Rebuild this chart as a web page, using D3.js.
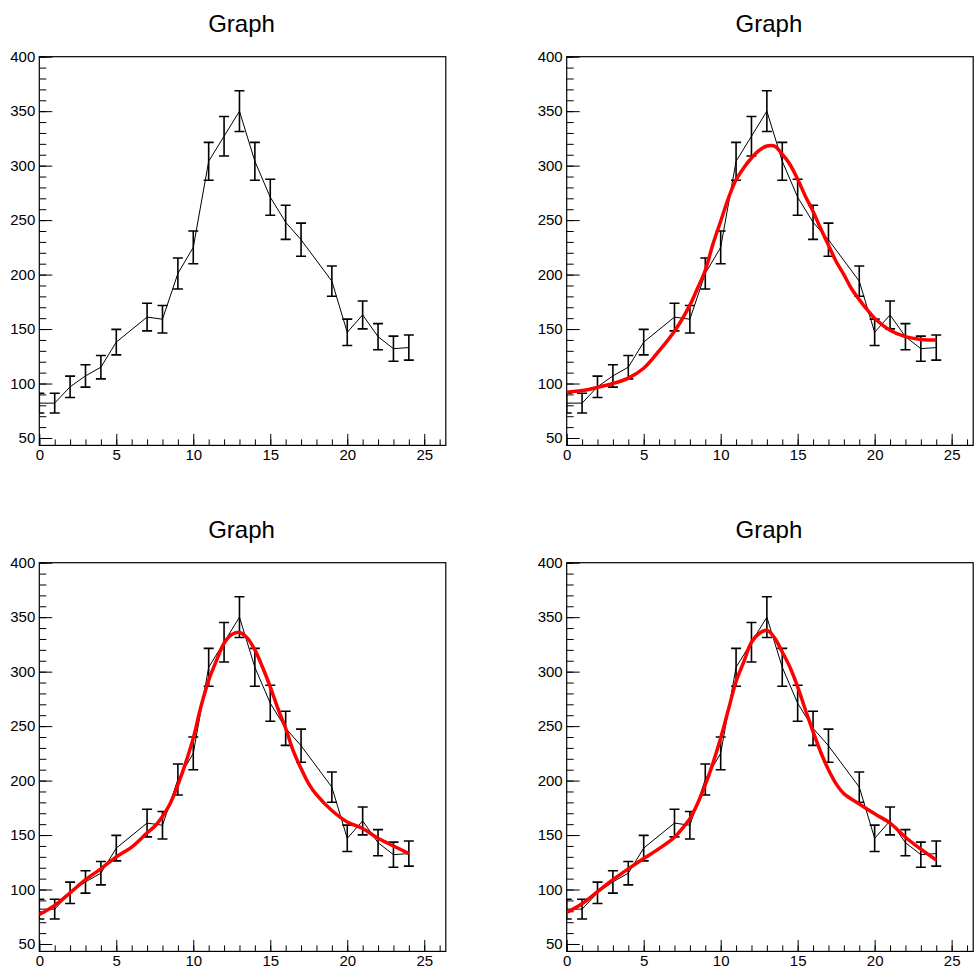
<!DOCTYPE html>
<html>
<head>
<meta charset="utf-8">
<script src="https://cdn.jsdelivr.net/npm/d3@7"></script>
<style>
  html, body { margin: 0; padding: 0; background: #fff; }
  svg { display: block; }
  text { font-family: "Liberation Sans", Arial, Helvetica, sans-serif; }
</style>
</head>
<body>
<script>
// Measured points of the graph
const xValues = [0, 1, 2, 3, 4, 5, 7, 8, 9, 10, 11, 12, 13, 14, 15, 16, 17, 19, 20, 21, 22, 23, 24];
const yValues = [82, 82, 97, 107, 115, 138, 161, 159, 201, 225, 304, 327, 350, 304, 271, 248, 232, 194, 147, 163, 143, 132, 133];
const yErrors = [9.1, 9.1, 9.8, 10.3, 10.7, 11.7, 12.7, 12.6, 14.2, 15.0, 17.4, 18.1, 18.7, 17.4, 16.5, 15.7, 15.2, 13.9, 12.1, 12.8, 12.0, 11.5, 11.5];

// Smoothed curves (top-right, bottom-left, bottom-right)
const fitGaussX = [0, 1, 2, 3, 4, 5, 6, 7, 8, 8.5, 9, 9.5, 10, 10.5, 11, 11.5, 12, 12.5, 13, 13.5, 14, 14.5, 15, 15.5, 16, 16.5, 17, 17.5, 18, 18.5, 19, 19.5, 20, 21, 22, 23, 24];
const fitGaussY = [92, 93.5, 96.5, 100, 105, 114, 130, 148, 172, 187.5, 204, 228, 249, 270, 287, 298, 307, 314, 318, 318, 310.5, 301, 287.5, 272, 258, 242, 227, 212, 200, 187, 177, 168, 160, 149, 143, 140.5, 140];

const fitKernelX = [0, 1, 2, 3, 4, 5, 6, 7, 7.5, 8, 8.5, 9, 9.5, 10, 10.5, 11, 11.5, 12, 12.5, 13, 13.5, 14, 14.5, 15, 15.5, 16, 16.5, 17, 17.5, 18, 19, 20, 21, 22, 23, 24];
const fitKernelY = [77, 85.5, 97, 109, 119, 130, 139, 152, 158, 167, 179, 196, 216, 239, 268, 292, 310, 326, 334, 336, 331, 320, 304, 286, 266, 248, 227, 211, 197, 187, 172.5, 162, 156, 147, 140, 133];

const fitSuperX = [0, 1, 2, 3, 4, 5, 6, 7, 7.5, 8, 8.5, 9, 9.5, 10, 10.5, 11, 11.5, 12, 12.5, 13, 13.5, 14, 14.5, 15, 15.5, 16, 16.5, 17, 17.5, 18, 19, 20, 21, 22, 23, 24];
const fitSuperY = [79, 87, 98, 109, 119, 128.5, 137.5, 148, 156, 165, 179, 196, 216, 239, 265, 291, 309, 327, 335, 338, 331, 318, 304, 286, 265, 245, 226, 210, 197, 188, 178.5, 169.5, 161, 148, 137, 127];

// Axis ticks and titles
const xMajorTicks = [0, 5, 10, 15, 20, 25];
const xMinorTicks = d3.range(0, 27, 1);
const yMajorTicks = [50, 100, 150, 200, 250, 300, 350, 400];
const yMinorTicks = d3.range(50, 401, 10);
const padTitles = ["Graph", "Graph", "Graph", "Graph"];
const xDomain = [0, 26.4];
const yDomain = [43.2, 400];

// Canvas geometry
const WIDTH = 977, HEIGHT = 978;
const padOrigins = [[0, 0], [527.4, 0], [0, 506], [527.4, 506]];
const FRAME = { left: 39.3, top: 56.7, width: 406.5, height: 388.7 };

const curves = [
  null,
  { x: fitGaussX, y: fitGaussY },
  { x: fitKernelX, y: fitKernelY },
  { x: fitSuperX, y: fitSuperY }
];

const svg = d3.select("body").append("svg")
  .attr("width", WIDTH)
  .attr("height", HEIGHT);

svg.append("rect").attr("width", WIDTH).attr("height", HEIGHT).attr("fill", "#fff");

const points = xValues.map((xv, i) => ({ x: xv, y: yValues[i], e: yErrors[i] }));

function styleAxis(g, size) {
  g.select(".domain").remove();
  g.selectAll("line").attr("stroke", "#000").attr("stroke-width", 1);
  g.selectAll("text")
    .attr("fill", "#000")
    .style("font-family", '"Liberation Sans", Arial, Helvetica, sans-serif')
    .style("font-size", size + "px");
}

curves.forEach((fit, i) => {
  const [ox, oy] = padOrigins[i];
  const pad = svg.append("g").attr("transform", `translate(${ox},${oy})`);

  // Title
  pad.append("text")
    .attr("x", FRAME.left + FRAME.width / 2 - 1)
    .attr("y", 32)
    .attr("text-anchor", "middle")
    .attr("fill", "#000")
    .style("font-size", "24px")
    .text(padTitles[i]);

  const g = pad.append("g").attr("transform", `translate(${FRAME.left},${FRAME.top})`);
  const x = d3.scaleLinear().domain(xDomain).range([0, FRAME.width]);
  const y = d3.scaleLinear().domain(yDomain).range([FRAME.height, 0]);

  const clipId = "frame-clip-" + i;
  g.append("clipPath").attr("id", clipId)
    .append("rect").attr("width", FRAME.width).attr("height", FRAME.height);

  // X axis: minor then major ticks, pointing into the frame
  g.append("g").attr("transform", `translate(0,${FRAME.height})`)
    .call(d3.axisBottom(x).tickValues(xMinorTicks).tickSize(-6).tickFormat(""))
    .call(a => styleAxis(a, 15));
  g.append("g").attr("transform", `translate(0,${FRAME.height})`)
    .call(d3.axisBottom(x).tickValues(xMajorTicks).tickSize(-11.5).tickPadding(3.5).tickFormat(d3.format("d")))
    .call(a => styleAxis(a, 15));

  // Y axis
  g.append("g")
    .call(d3.axisLeft(y).tickValues(yMinorTicks).tickSize(-7).tickFormat(""))
    .call(a => styleAxis(a, 15));
  g.append("g")
    .call(d3.axisLeft(y).tickValues(yMajorTicks).tickSize(-13).tickPadding(4).tickFormat(d3.format("d")))
    .call(a => styleAxis(a, 15));

  // Frame
  g.append("rect")
    .attr("width", FRAME.width)
    .attr("height", FRAME.height)
    .attr("fill", "none")
    .attr("stroke", "#000")
    .attr("stroke-width", 1.2);

  const plot = g.append("g").attr("clip-path", `url(#${clipId})`);

  // Polyline through the points
  plot.append("path")
    .datum(points)
    .attr("fill", "none")
    .attr("stroke", "#000")
    .attr("stroke-width", 1)
    .attr("d", d3.line().x(d => x(d.x)).y(d => y(d.y)));

  // Error bars with end caps
  const bars = plot.append("g").attr("stroke", "#000").attr("stroke-width", 1.6);
  const capHalf = 5;
  points.forEach(d => {
    const cx = x(d.x), top = y(d.y + d.e), bot = y(d.y - d.e);
    bars.append("line").attr("x1", cx).attr("x2", cx).attr("y1", top).attr("y2", bot);
    bars.append("line").attr("x1", cx - capHalf).attr("x2", cx + capHalf).attr("y1", top).attr("y2", top);
    bars.append("line").attr("x1", cx - capHalf).attr("x2", cx + capHalf).attr("y1", bot).attr("y2", bot);
  });

  // Smoothed curve
  if (fit) {
    const fitPts = fit.x.map((xv, k) => [xv, fit.y[k]]);
    plot.append("path")
      .datum(fitPts)
      .attr("fill", "none")
      .attr("stroke", "#ff0000")
      .attr("stroke-width", 3.5)
      .attr("stroke-linejoin", "round")
      .attr("d", d3.line().x(d => x(d[0])).y(d => y(d[1])).curve(d3.curveCatmullRom.alpha(0.5)));
  }
});
</script>
</body>
</html>
